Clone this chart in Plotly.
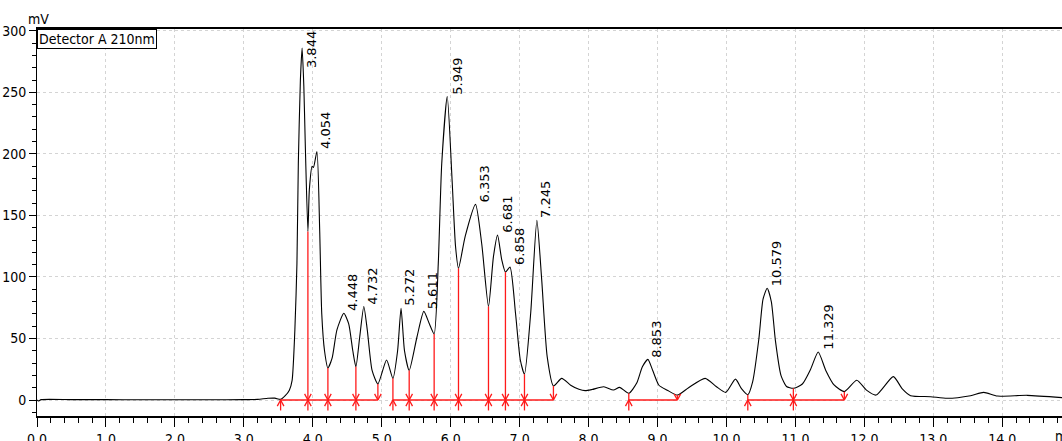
import numpy as np
import plotly.graph_objects as go

# ---- chromatogram trace (time in min, signal in mV) ----
time_min = [0.00, 0.02, 0.06, 0.5, 1.0, 1.5, 2.0, 2.5, 3.0, 3.2, 3.35, 3.45, 3.533,
            3.60, 3.66, 3.70, 3.74, 3.77, 3.79, 3.82, 3.845, 3.87, 3.89, 3.929,
            3.95, 3.99, 4.01, 4.06, 4.10, 4.13, 4.17, 4.219, 4.28, 4.35, 4.45,
            4.52, 4.58, 4.625, 4.68, 4.74, 4.79, 4.86, 4.944, 5.07, 5.162, 5.23,
            5.28, 5.33, 5.398, 5.51, 5.61, 5.69, 5.76, 5.82, 5.87, 5.95, 6.02,
            6.07, 6.113, 6.21, 6.36, 6.45, 6.548, 6.62, 6.68, 6.74, 6.794, 6.86,
            6.94, 7.01, 7.07, 7.16, 7.25, 7.32, 7.40, 7.49, 7.61, 7.74, 7.86,
            7.95, 8.05, 8.22, 8.36, 8.45, 8.583, 8.70, 8.78, 8.86, 8.93, 9.02,
            9.14, 9.288, 9.45, 9.69, 9.85, 9.99, 10.13, 10.22, 10.309, 10.38,
            10.47, 10.53, 10.59, 10.65, 10.71, 10.79, 10.87, 10.97, 11.10, 11.22,
            11.33, 11.44, 11.56, 11.709, 11.89, 12.03, 12.17, 12.42, 12.55, 12.67,
            12.96, 13.20, 13.54, 13.73, 13.93, 14.36, 14.88]
signal_mv = [0.0, -0.8, 0.3, 0.3, 0.3, 0.2, 0.2, 0.2, 0.3, 0.5, 1.4, 1.5, 0.5,
             3.5, 8, 16, 57, 111, 192, 260, 286, 255, 210, 137,
             171, 190, 189, 202, 138, 70, 40, 26, 34, 57, 70.5,
             62, 40, 27, 51, 76, 57, 24, 13, 32.5, 17.6, 40,
             74.5, 40, 24, 51, 72, 62, 53.7, 111, 192, 246.6, 179,
             125, 107, 133, 159, 127, 76, 116.5, 134, 114, 104, 108,
             70.5, 32.5, 21, 70.5, 146, 97.6, 35, 11.4, 17.6, 12, 8.7,
             7.6, 8.5, 10.8, 8.1, 10.3, 5.4, 14, 27, 33, 24, 12,
             8, 4, 10, 17.6, 11, 6.2, 17, 9, 4.3, 15,
             50, 82, 90.8, 80, 48, 20, 11, 9.5, 13, 25,
             39, 24, 12.2, 6.8, 16, 8, 4, 19, 9, 3.5,
             2.7, 1.4, 3.5, 6.2, 3.2, 3.8, 1.9]

# ---- peak retention times (labels) ----
peak_times = [3.844, 4.054, 4.448, 4.732, 5.272, 5.611, 5.949, 6.353,
              6.681, 6.858, 7.245, 8.853, 10.579, 11.329]
peak_labels = ["3.844", "4.054", "4.448", "4.732", "5.272", "5.611", "5.949",
               "6.353", "6.681", "6.858", "7.245", "8.853", "10.579", "11.329"]
peak_heights = [286, 202, 70.5, 76, 74.5, 72, 246.6, 159, 134, 108, 146, 33, 90.8, 39]

# ---- integration baseline events ----
seg_start = [3.533, 5.162, 8.583, 10.309]
seg_end = [4.944, 7.490, 9.288, 11.709]
drop_times = [3.929, 4.219, 4.625, 5.398, 5.760, 6.113, 6.548, 6.794, 7.070, 10.970]

x_ticks = [0, 1, 2, 3, 4, 5, 6, 7, 8, 9, 10, 11, 12, 13, 14]
y_ticks = [0, 50, 100, 150, 200, 250, 300]

Y_TOP = 301.5
Y_BOT = -13
X_MAX = 14.866

narrow = "Liberation Sans Narrow, Arial Narrow, DejaVu Sans Condensed, sans-serif"

fig = go.Figure()

fig.add_trace(go.Scatter(x=time_min, y=signal_mv, mode="lines",
                         line=dict(color="black", width=1.1, shape="spline", smoothing=0.6),
                         hoverinfo="skip"))

# red integration marks
def curve_at(t):
    return float(np.interp(t, time_min, signal_mv))

dx = 0.048
ah = 5.0
tail = -8.5
rx, ry = [], []
def seg(xs, ys):
    rx.extend(xs + [None]); ry.extend(ys + [None])

for s, e in zip(seg_start, seg_end):
    seg([s, e], [0, 0])
for s in seg_start:
    seg([s, s], [max(curve_at(s), 0), tail])
    seg([s - dx, s, s + dx], [-ah, 0, -ah])
for e in seg_end:
    seg([e, e], [curve_at(e), 0])
    seg([e - dx, e, e + dx], [ah, 0, ah])
for d in drop_times:
    seg([d, d], [curve_at(d), tail])
    seg([d - dx, d, d + dx], [ah, 0, ah])
    seg([d - dx, d, d + dx], [-ah, 0, -ah])

fig.add_trace(go.Scatter(x=rx, y=ry, mode="lines",
                         line=dict(color="#ff1a1a", width=1.3),
                         hoverinfo="skip", connectgaps=False))

# peak labels
label_len = 33  # approx. label length in mV units
for t, lab, h in zip(peak_times, peak_labels, peak_heights):
    if h + label_len > Y_TOP:
        fig.add_annotation(x=t, y=Y_TOP, text=lab, textangle=-90, showarrow=False,
                           xanchor="left", yanchor="top", xshift=0,
                           font=dict(family="DejaVu Sans", size=13, color="black"))
    else:
        fig.add_annotation(x=t, y=h, text=lab, textangle=-90, showarrow=False,
                           xanchor="left", yanchor="bottom", xshift=0,
                           font=dict(family="DejaVu Sans", size=13, color="black"))

# legend box
fig.add_annotation(xref="paper", yref="paper", x=0, y=1, xanchor="left", yanchor="top",
                   text="Detector A 210nm", showarrow=False,
                   bordercolor="black", borderwidth=1, borderpad=1, bgcolor="white",
                   font=dict(family=narrow, size=14, color="black"))
# unit labels
fig.add_annotation(xref="paper", yref="paper", x=0, y=1.025, xanchor="center",
                   yanchor="middle", xshift=1, text="mV", showarrow=False,
                   font=dict(family=narrow, size=14, color="black"))
fig.add_annotation(xref="x", yref="paper", x=14.74, y=-0.052, xanchor="left",
                   yanchor="middle", text="min", showarrow=False,
                   font=dict(family=narrow, size=14, color="black"))

fig.update_layout(
    width=1062, height=441,
    margin=dict(l=37, r=0, t=29, b=25, autoexpand=False),
    paper_bgcolor="white", plot_bgcolor="white",
    showlegend=False,
    xaxis=dict(range=[0, X_MAX], tickvals=x_ticks, ticktext=[f"{v:.1f}" for v in x_ticks],
               automargin=False,
               showline=True, linecolor="black", linewidth=2, mirror=True,
               ticks="outside", ticklen=9, tickcolor="black", tickwidth=1,
               minor=dict(dtick=0.2, ticks="outside", ticklen=5, tickcolor="black",
                          showgrid=False),
               showgrid=True, gridcolor="#d4d4d4", griddash="dot", gridwidth=1,
               zeroline=False,
               tickfont=dict(family=narrow, size=14, color="black")),
    yaxis=dict(range=[Y_BOT, Y_TOP], tickvals=y_ticks, automargin=False,
               showline=True, linecolor="black", linewidth=1,
               ticks="outside", ticklen=7, tickcolor="black", tickwidth=1,
               minor=dict(dtick=10, ticks="outside", ticklen=4, tickcolor="black",
                          showgrid=False),
               showgrid=True, gridcolor="#d4d4d4", griddash="dot", gridwidth=1,
               zeroline=False,
               tickfont=dict(family=narrow, size=14, color="black")),
)

fig.write_html("out.html")
